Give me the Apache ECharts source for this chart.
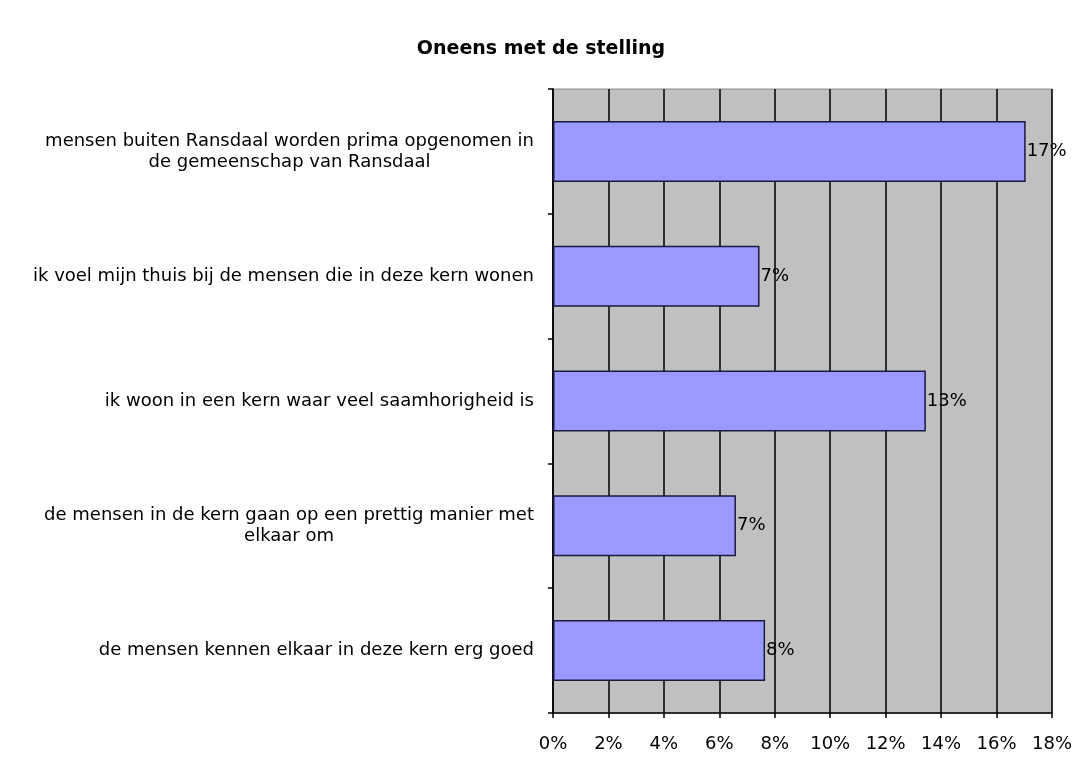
<!DOCTYPE html>
<html>
<head>
<meta charset="utf-8">
<script src="https://cdn.jsdelivr.net/npm/echarts@6/dist/echarts.min.js"></script>
<style>
html,body{margin:0;padding:0;background:#fff;}
#chart{width:1079px;height:757px;}
</style>
</head>
<body>
<div id="chart"></div>
<script>
var titleText = 'Oneens met de stelling';
var categories = [
  'mensen buiten Ransdaal worden prima opgenomen in\nde gemeenschap van Ransdaal',
  'ik voel mijn thuis bij de mensen die in deze kern wonen',
  'ik woon in een kern waar veel saamhorigheid is',
  'de mensen in de kern gaan op een prettig manier met\nelkaar om',
  'de mensen kennen elkaar in deze kern erg goed'
];
var values = [17.05, 7.45, 13.45, 6.6, 7.65];
var valueLabels = ['17%', '7%', '13%', '7%', '8%'];

var FONT = '"DejaVu Sans", Verdana, sans-serif';
var chart = echarts.init(document.getElementById('chart'));
chart.setOption({
  backgroundColor: '#ffffff',
  animation: false,
  title: {
    text: titleText,
    left: 536,
    textAlign: 'center',
    top: 35,
    textStyle: {fontFamily: FONT, fontSize: 19, fontWeight: 'bold', color: '#000'}
  },
  grid: {
    left: 553, right: 27, top: 89, bottom: 44,
    show: true, backgroundColor: '#C0C0C0', borderColor: '#8a8a8a', borderWidth: 1
  },
  xAxis: {
    type: 'value', min: 0, max: 18, interval: 2,
    axisLine: {show: true, lineStyle: {color: '#000', width: 1.5}},
    axisTick: {show: true, length: 5, lineStyle: {color: '#000', width: 1.5}},
    splitLine: {show: true, lineStyle: {color: '#000', width: 1.5}},
    axisLabel: {
      formatter: function (v) { return v + '%'; },
      fontFamily: FONT, fontSize: 18, color: '#000', margin: 22
    }
  },
  yAxis: {
    type: 'category', inverse: true, data: categories,
    axisLine: {show: true, lineStyle: {color: '#000', width: 1.5}},
    axisTick: {show: true, length: 5, lineStyle: {color: '#000', width: 1.5}},
    axisLabel: {
      margin: 19,
      fontFamily: FONT, fontSize: 18, color: '#000', lineHeight: 21,
      formatter: function (v) { return '{c|' + v + '}'; },
      rich: {c: {align: 'center', fontFamily: FONT, fontSize: 18, color: '#000', lineHeight: 21}}
    }
  },
  series: [{
    type: 'bar',
    data: values,
    barWidth: 61,
    itemStyle: {color: '#9999FF', borderColor: '#1a1a40', borderWidth: 1.5},
    label: {
      show: true, position: 'right', distance: 1,
      formatter: function (p) { return valueLabels[p.dataIndex]; },
      fontFamily: FONT, fontSize: 18, color: '#000'
    }
  }]
});
</script>
</body>
</html>
